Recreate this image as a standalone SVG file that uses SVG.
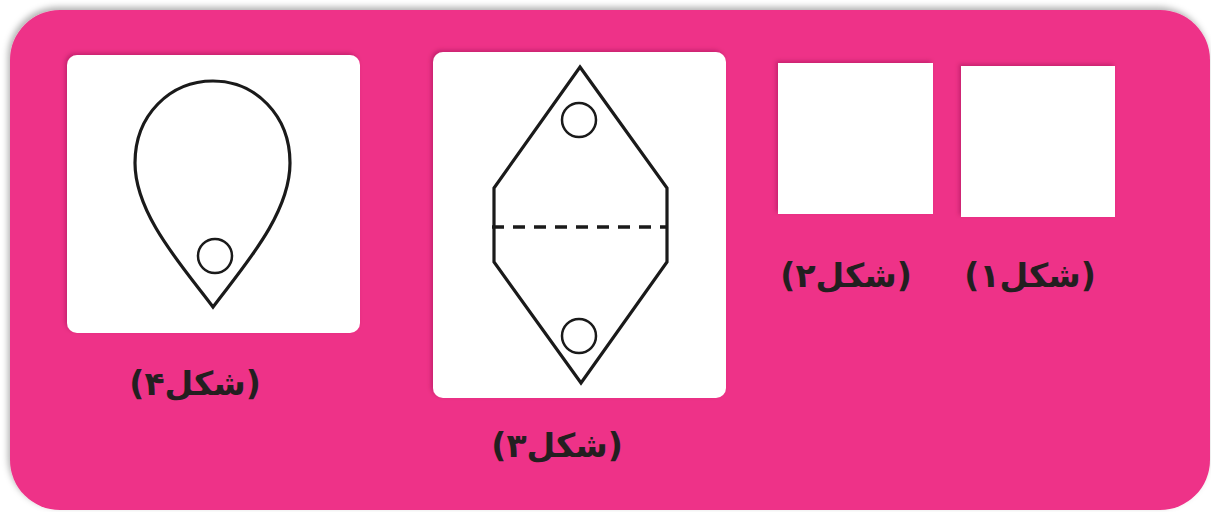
<svg xmlns="http://www.w3.org/2000/svg" width="1211" height="512" viewBox="0 0 1211 512">
  <defs>
    <filter id="outerShadow" x="-5%" y="-10%" width="110%" height="120%">
      <feDropShadow dx="-2" dy="-3" stdDeviation="3" flood-color="#000" flood-opacity="0.3"/>
    </filter>
    <filter id="panelShadow" x="-10%" y="-10%" width="120%" height="120%">
      <feDropShadow dx="-2" dy="-2" stdDeviation="2" flood-color="#7a0a3a" flood-opacity="0.35"/>
    </filter>
    <style>
      .panel { fill: #FFFFFF; filter: url(#panelShadow); }
      .shape { fill: none; stroke: #1a1a1a; stroke-width: 3.2; stroke-linejoin: miter; }
      .hole { fill: none; stroke: #1a1a1a; stroke-width: 2.5; }
      .label { font-family: "DejaVu Sans", "Noto Sans", sans-serif; font-weight: bold; font-size: 33px; fill: #231F20; text-anchor: middle; direction: rtl; unicode-bidi: embed; }
    </style>
  </defs>
  <rect x="0" y="0" width="1211" height="512" fill="#FFFFFF"/>
  <rect id="frame" x="10" y="10" width="1200" height="500" rx="50" ry="50" fill="#EE3388" filter="url(#outerShadow)"/>

  <g id="fig4">
    <rect class="panel" x="67" y="55" width="293" height="278" rx="10" ry="10"/>
    <path class="shape" d="M213,81 C255,81 290,115 290,163 C290,215 242,268 213,307 C184,268 135,215 135,163 C135,115 170,81 213,81 Z"/>
    <circle class="hole" cx="215" cy="256" r="17"/>
    <text class="label" x="195" y="395">(شکل۴)</text>
  </g>

  <g id="fig3">
    <rect class="panel" x="433" y="52" width="293" height="346" rx="10" ry="10"/>
    <path class="shape" d="M580,67 L667,188 L667,262 L581,383 L494,262 L494,188 Z"/>
    <line x1="492" y1="227" x2="667" y2="227" stroke="#1a1a1a" stroke-width="3.5" stroke-dasharray="12 9"/>
    <circle class="hole" cx="579" cy="120" r="17"/>
    <circle class="hole" cx="579" cy="336" r="17"/>
    <text class="label" x="557" y="457">(شکل۳)</text>
  </g>

  <g id="fig2">
    <rect class="panel" x="778" y="63" width="155" height="151"/>
    <text class="label" x="846" y="287">(شکل۲)</text>
  </g>

  <g id="fig1">
    <rect class="panel" x="961" y="66" width="154" height="151"/>
    <text class="label" x="1030" y="287">(شکل۱)</text>
  </g>

  <g id="connectors"/>
</svg>
